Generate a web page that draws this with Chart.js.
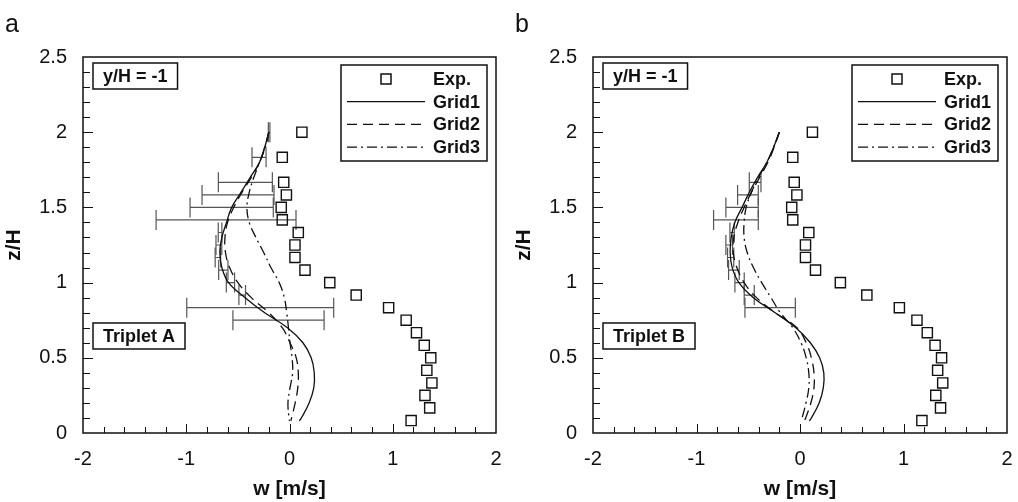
<!DOCTYPE html>
<html>
<head>
<meta charset="utf-8">
<script src="https://cdn.jsdelivr.net/npm/chart.js@4.4.1/dist/chart.umd.min.js"></script>
<style>
  html, body { margin: 0; padding: 0; background: #fff; }
  #wrap { position: relative; width: 1018px; height: 502px; overflow: hidden; }
  .panel { position: absolute; top: 0; height: 502px; }
</style>
</head>
<body>
<div id="wrap">
  <div class="panel" style="left:0;width:509px"><canvas id="chartA" width="509" height="502"></canvas></div>
  <div class="panel" style="left:510px;width:508px"><canvas id="chartB" width="508" height="502"></canvas></div>
</div>
<script>
// experimental points (same in both panels)
const expZ = [2.0, 1.833, 1.667, 1.583, 1.5, 1.417, 1.333, 1.25, 1.167, 1.083, 1.0,
  0.917, 0.833, 0.75, 0.667, 0.583, 0.5, 0.417, 0.333, 0.25, 0.167, 0.083];
const expW = [0.12, -0.07, -0.056, -0.03, -0.08, -0.07, 0.085, 0.053, 0.053, 0.15, 0.39,
  0.646, 0.96, 1.13, 1.23, 1.305, 1.368, 1.33, 1.379, 1.312, 1.358, 1.178];

// heights where the simulated profiles were read
const zNodes = [2.0, 1.9, 1.8, 1.7, 1.6, 1.5, 1.4, 1.3, 1.2, 1.1, 1.0,
  0.9, 0.8, 0.7, 0.6, 0.5, 0.4, 0.3, 0.2, 0.1, 0.08];

// Triplet A
const grid1A = [-0.2, -0.24, -0.29, -0.38, -0.47, -0.56, -0.61, -0.655, -0.675, -0.655, -0.59,
  -0.43, -0.24, -0.02, 0.13, 0.21, 0.24, 0.235, 0.19, 0.115, 0.095];
const grid2A = [-0.2, -0.24, -0.29, -0.37, -0.46, -0.54, -0.6, -0.625, -0.62, -0.58, -0.5,
  -0.37, -0.2, -0.07, 0.005, 0.065, 0.085, 0.08, 0.055, 0.02, 0.013];
const grid3A = [-0.2, -0.235, -0.29, -0.345, -0.39, -0.412, -0.39, -0.325, -0.25, -0.18, -0.1,
  -0.05, -0.027, -0.01, 0.005, 0.025, 0.03, 0.005, -0.015, -0.005, 0.0];
const errZA = [2.0, 1.833, 1.667, 1.583, 1.5, 1.417, 1.333, 1.25, 1.167, 1.083, 1.0, 0.917, 0.833, 0.75];
const errLoA = [-0.205, -0.363, -0.689, -0.847, -0.963, -1.292, -0.69, -0.712, -0.72, -0.686, -0.612, -0.49, -0.995, -0.548];
const errHiA = [-0.19, -0.227, -0.166, -0.15, -0.157, 0.063, -0.655, -0.656, -0.667, -0.596, -0.532, -0.426, 0.428, 0.335];

// Triplet B
const grid1B = [-0.2, -0.255, -0.32, -0.41, -0.49, -0.56, -0.63, -0.665, -0.675, -0.655, -0.59,
  -0.45, -0.24, -0.04, 0.1, 0.19, 0.23, 0.225, 0.185, 0.11, 0.09];
const grid2B = [-0.2, -0.25, -0.31, -0.39, -0.47, -0.54, -0.6, -0.64, -0.645, -0.61, -0.54,
  -0.42, -0.24, -0.03, 0.06, 0.11, 0.135, 0.135, 0.105, 0.055, 0.04];
const grid3B = [-0.2, -0.255, -0.32, -0.4, -0.47, -0.52, -0.54, -0.54, -0.51, -0.45, -0.37,
  -0.28, -0.19, -0.07, 0.01, 0.06, 0.085, 0.085, 0.058, 0.02, 0.01];
const errZB = [1.667, 1.583, 1.5, 1.417, 1.333, 1.25, 1.167, 1.083, 1.0, 0.917, 0.833];
const errLoB = [-0.49, -0.603, -0.716, -0.835, -0.677, -0.716, -0.7, -0.69, -0.629, -0.539, -0.532];
const errHiB = [-0.377, -0.403, -0.403, -0.403, -0.635, -0.652, -0.64, -0.587, -0.539, -0.442, -0.045];

const FONT = "'Liberation Sans', Arial, Helvetica, sans-serif";
Chart.defaults.font.family = FONT;
Chart.defaults.color = "#111";

function isWhole(v) {
  return Math.abs(v - Math.round(v)) < 1e-6;
}

function makePanelPlugin(letter, note, errZ, errLo, errHi) {
  return {
    id: "panel" + letter,
    beforeDatasetsDraw(chart) {
      const ctx = chart.ctx;
      const xs = chart.scales.x, ys = chart.scales.y;
      ctx.save();
      ctx.strokeStyle = "#555";
      ctx.lineWidth = 1.2;
      for (let i = 0; i < errZ.length; i++) {
        const py = ys.getPixelForValue(errZ[i]);
        const x1 = xs.getPixelForValue(errLo[i]);
        const x2 = xs.getPixelForValue(errHi[i]);
        ctx.beginPath();
        ctx.moveTo(x1, py); ctx.lineTo(x2, py);
        ctx.moveTo(x1, py - 10); ctx.lineTo(x1, py + 10);
        ctx.moveTo(x2, py - 10); ctx.lineTo(x2, py + 10);
        ctx.stroke();
      }
      ctx.restore();
    },
    afterDraw(chart) {
      const ctx = chart.ctx;
      const a = chart.chartArea;
      const xs = chart.scales.x, ys = chart.scales.y;
      ctx.save();

      // inward ticks, left and bottom only
      ctx.strokeStyle = "#111";
      ctx.lineWidth = 1;
      ctx.beginPath();
      xs.ticks.forEach((t) => {
        if (t.value <= -2 || t.value >= 2) return;
        const px = Math.round(xs.getPixelForValue(t.value)) + 0.5;
        const len = isWhole(t.value) ? 9 : 6;
        ctx.moveTo(px, a.bottom); ctx.lineTo(px, a.bottom - len);
      });
      ys.ticks.forEach((t) => {
        if (t.value <= 0 || t.value >= 2.5) return;
        const py = Math.round(ys.getPixelForValue(t.value)) + 0.5;
        const len = isWhole(t.value * 2) ? 10 : 7;
        ctx.moveTo(a.left, py); ctx.lineTo(a.left + len, py);
      });
      ctx.stroke();

      // frame
      ctx.lineWidth = 1.5;
      ctx.strokeRect(a.left, a.top, a.right - a.left, a.bottom - a.top);

      // panel letter
      ctx.fillStyle = "#111";
      ctx.font = "25px " + FONT;
      ctx.textAlign = "left";
      ctx.textBaseline = "alphabetic";
      ctx.fillText(letter, 5, 32);

      // text boxes
      ctx.font = "bold 18px " + FONT;
      ctx.textBaseline = "middle";
      function labelBox(text, x, cy) {
        const w = ctx.measureText(text).width + 20;
        ctx.fillStyle = "#fff";
        ctx.fillRect(x, cy - 13, w, 26);
        ctx.lineWidth = 1.5;
        ctx.strokeStyle = "#111";
        ctx.strokeRect(x, cy - 13, w, 26);
        ctx.fillStyle = "#111";
        ctx.textAlign = "left";
        ctx.fillText(text, x + 10, cy + 1);
      }
      labelBox("y/H = -1", a.left + 10, a.top + 19);
      labelBox(note, a.left + 10, ys.getPixelForValue(0.645));

      // legend
      const bx = a.right - 155, by = a.top + 8;
      ctx.fillStyle = "#fff";
      ctx.fillRect(bx, by, 146, 96);
      ctx.lineWidth = 1.5;
      ctx.strokeStyle = "#111";
      ctx.strokeRect(bx, by, 146, 96);
      chart.data.datasets.forEach((ds, i) => {
        const ry = by + 14 + i * 22.7;
        ctx.strokeStyle = "#111";
        if (i === 0) {
          ctx.lineWidth = 1.5;
          ctx.setLineDash([]);
          ctx.strokeRect(a.right - 115, ry - 5, 10, 10);
        } else {
          ctx.lineWidth = 1.3;
          ctx.setLineDash(ds.borderDash || []);
          ctx.beginPath();
          ctx.moveTo(a.right - 149, ry); ctx.lineTo(a.right - 71, ry);
          ctx.stroke();
          ctx.setLineDash([]);
        }
        ctx.fillStyle = "#111";
        ctx.textAlign = "left";
        ctx.fillText(ds.label, a.right - 63, ry + 1);
      });
      ctx.restore();
    }
  };
}

function makePanel(canvasId, letter, note, g1, g2, g3, errZ, errLo, errHi, padRight) {
  const pts = (xs) => zNodes.map((z, i) => ({ x: xs[i], y: z }));
  const curve = (label, xs, dash) => ({
    label: label,
    data: pts(xs),
    showLine: true,
    borderColor: "#111",
    borderWidth: 1.3,
    borderDash: dash,
    pointRadius: 0,
    tension: 0.4,
    fill: false,
  });
  return new Chart(document.getElementById(canvasId), {
    type: "scatter",
    data: {
      datasets: [
        {
          label: "Exp.",
          data: expZ.map((z, i) => ({ x: expW[i], y: z })),
          pointStyle: "rect",
          pointRadius: 7.2,
          pointBorderWidth: 1.4,
          pointBorderColor: "#111",
          pointBackgroundColor: "rgba(0,0,0,0)",
          showLine: false,
        },
        curve("Grid1", g1, []),
        curve("Grid2", g2, [10, 6]),
        curve("Grid3", g3, [10, 4, 2, 4]),
      ],
    },
    options: {
      responsive: false,
      animation: false,
      layout: { padding: { top: 57, right: padRight, bottom: 0, left: 0 } },
      plugins: { legend: { display: false }, tooltip: { enabled: false } },
      scales: {
        x: {
          type: "linear",
          min: -2,
          max: 2,
          grid: { display: false, drawTicks: false },
          border: { display: false },
          ticks: {
            stepSize: 0.2,
            maxTicksLimit: 100,
            autoSkip: false,
            maxRotation: 0,
            padding: 14,
            font: { size: 20 },
            callback: (v) => (isWhole(v) ? String(Math.round(v)) : ""),
          },
          title: {
            display: true,
            text: "w [m/s]",
            font: { size: 21, weight: "bold" },
            padding: { top: 0, bottom: 0 },
          },
          afterFit: (s) => {
            s.height = 69;
            s.paddingLeft = 0;
            s.paddingRight = 0;
          },
        },
        y: {
          type: "linear",
          min: 0,
          max: 2.5,
          grid: { display: false, drawTicks: false },
          border: { display: false },
          ticks: {
            stepSize: 0.1,
            maxTicksLimit: 100,
            autoSkip: false,
            padding: 16,
            font: { size: 20 },
            callback: (v) => {
              const t = Math.round(v * 10);
              return t % 5 === 0 ? String(t / 10) : "";
            },
          },
          title: {
            display: true,
            text: "z/H",
            font: { size: 21, weight: "bold" },
            padding: { top: 2, bottom: 0 },
          },
          afterFit: (s) => {
            s.width = 83;
            s.paddingTop = 0;
            s.paddingBottom = 0;
          },
        },
      },
    },
    plugins: [makePanelPlugin(letter, note, errZ, errLo, errHi)],
  });
}

makePanel("chartA", "a", "Triplet A", grid1A, grid2A, grid3A, errZA, errLoA, errHiA, 13);
makePanel("chartB", "b", "Triplet B", grid1B, grid2B, grid3B, errZB, errLoB, errHiB, 11);
</script>
</body>
</html>
